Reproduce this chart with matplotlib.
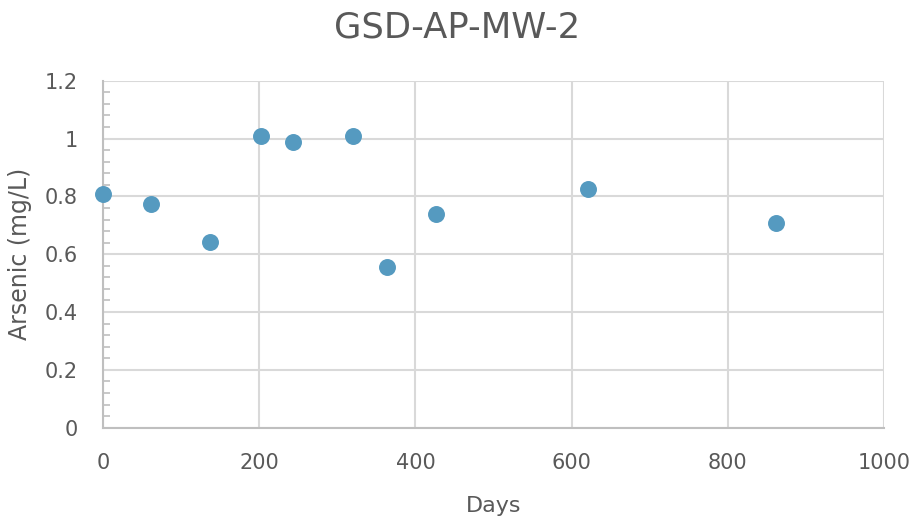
import numpy as np
import matplotlib.pyplot as plt
from matplotlib.ticker import MultipleLocator

# data
days = [0, 61, 137, 202, 243, 320, 363, 426, 621, 861]
arsenic = [0.808, 0.773, 0.643, 1.009, 0.987, 1.009, 0.555, 0.740, 0.825, 0.709]

xticks = [0, 200, 400, 600, 800, 1000]
yticks = [0, 0.2, 0.4, 0.6, 0.8, 1.0, 1.2]
ytick_labels = ['0', '0.2', '0.4', '0.6', '0.8', '1', '1.2']

plt.rcParams['font.family'] = ['DejaVu Sans']
txt = '#595959'
grid = '#D9D9D9'

fig = plt.figure(figsize=(9.15, 5.25), dpi=100)
ax = fig.add_axes([0.1126, 0.1853, 0.8536, 0.661])

ax.scatter(days, arsenic, s=125, color='#559AC0', zorder=3, clip_on=False)

ax.set_xlim(0, 1000)
ax.set_ylim(0, 1.2)
ax.set_xticks(xticks)
ax.set_yticks(yticks)
ax.set_yticklabels(ytick_labels)
ax.yaxis.set_minor_locator(MultipleLocator(0.04))

ax.grid(True, which='major', color=grid, lw=1.5)
ax.set_axisbelow(True)
for s in ['top', 'right']:
    ax.spines[s].set_visible(False)
for s in ['left', 'bottom']:
    ax.spines[s].set_color('#BFBFBF')
    ax.spines[s].set_linewidth(1.5)

ax.tick_params(which='major', length=0, labelsize=15, labelcolor=txt)
ax.tick_params(axis='y', which='major', pad=18)
ax.tick_params(axis='x', which='major', pad=18)
ax.tick_params(axis='y', which='minor', direction='in', length=5, width=1.2, color='#BFBFBF')

ax.set_xlabel('Days', fontsize=16, color=txt, labelpad=17)
ax.set_ylabel('Arsenic (mg/L)', fontsize=17, color=txt, labelpad=9)
fig.suptitle('GSD-AP-MW-2', fontsize=25.5, color=txt, y=0.98)

fig.savefig('out.png', dpi=100)
